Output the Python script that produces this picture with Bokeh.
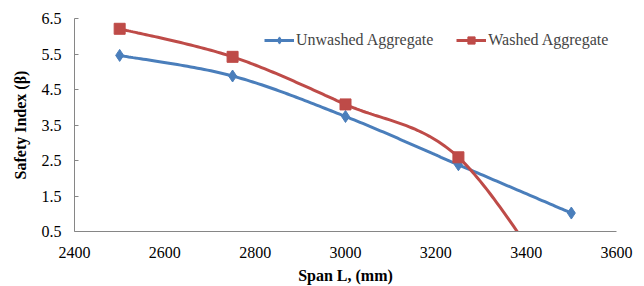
import numpy as np
from bokeh.plotting import figure
from bokeh.models import Range1d, FixedTicker, Legend, LegendItem, CustomJSTickFormatter
from bokeh.embed import file_html
from bokeh.resources import INLINE

span = [2500, 2750, 3000, 3250, 3500]
unwashed = [5.46, 4.88, 3.74, 2.38, 1.02]
washed = [6.21, 5.42, 4.08, 2.59, -1.8]
x_ticks = [2400, 2600, 2800, 3000, 3200, 3400, 3600]
y_ticks = [0.5, 1.5, 2.5, 3.5, 4.5, 5.5, 6.5]

BLUE = "#4A7EBB"
RED = "#BE4B48"
FONT = "Liberation Serif"
FS = "16px"


def smooth(xs, ys, n=40):
    xs = np.asarray(xs, float)
    ys = np.asarray(ys, float)
    m = len(xs)
    ox, oy = [], []
    for i in range(m - 1):
        i0, i2, i3 = max(i - 1, 0), i + 1, min(i + 2, m - 1)
        p0 = np.array([xs[i], ys[i]])
        p3 = np.array([xs[i2], ys[i2]])
        c1 = p0 + (np.array([xs[i2], ys[i2]]) - np.array([xs[i0], ys[i0]])) / 6
        c2 = p3 - (np.array([xs[i3], ys[i3]]) - p0) / 6
        t = np.linspace(0, 1, n)
        bx = (1 - t) ** 3 * p0[0] + 3 * t * (1 - t) ** 2 * c1[0] + 3 * t ** 2 * (1 - t) * c2[0] + t ** 3 * p3[0]
        by = (1 - t) ** 3 * p0[1] + 3 * t * (1 - t) ** 2 * c1[1] + 3 * t ** 2 * (1 - t) * c2[1] + t ** 3 * p3[1]
        ox.extend(bx.tolist())
        oy.extend(by.tolist())
    return ox, oy


p = figure(width=644, height=286, output_backend="svg", toolbar_location=None,
           x_range=Range1d(2400, 3600), y_range=Range1d(0.5, 6.5),
           min_border_left=74, min_border_right=28, min_border_top=18, min_border_bottom=54)
p.outline_line_color = None
p.xgrid.visible = False
p.ygrid.visible = False

ux, uy = smooth(span, unwashed)
wx, wy = smooth(span, washed)
l1 = p.line(ux, uy, line_color=BLUE, line_width=3)
m1 = p.scatter(span, unwashed, marker="diamond", size=12, fill_color=BLUE, line_color=BLUE)
l2 = p.line(wx, wy, line_color=RED, line_width=3)
m2 = p.scatter(span, washed, marker="square", size=11, fill_color=RED, line_color=RED)

for ax in (p.xaxis[0], p.yaxis[0]):
    ax.major_tick_out = 0
    ax.major_tick_in = 0
    ax.minor_tick_out = 0
    ax.minor_tick_in = 0
    ax.axis_line_color = "#868686"
    ax.major_tick_line_color = "#868686"
    ax.axis_line_width = 1
    ax.major_label_text_font = FONT
    ax.major_label_text_font_size = FS
    ax.major_label_text_color = "black"
    ax.axis_label_text_font = FONT
    ax.axis_label_text_font_size = FS
    ax.axis_label_text_font_style = "bold"
    ax.axis_label_text_color = "black"

p.yaxis.major_tick_in = 4
p.xaxis.ticker = FixedTicker(ticks=x_ticks)
p.yaxis.ticker = FixedTicker(ticks=y_ticks)
p.yaxis.formatter = CustomJSTickFormatter(code="return tick.toFixed(1);")
p.xaxis.axis_label = "Span L, (mm)"
p.yaxis.axis_label = "Safety Index (β)"
p.xaxis.major_label_standoff = 15
p.yaxis.major_label_standoff = 13
p.xaxis.axis_label_standoff = 6
p.yaxis.axis_label_standoff = 10

legend = Legend(items=[LegendItem(label="Unwashed Aggregate", renderers=[l1, m1]),
                       LegendItem(label="Washed Aggregate", renderers=[l2, m2])],
                orientation="horizontal", location=(190, 182),
                border_line_color=None, background_fill_alpha=0,
                label_text_font=FONT, label_text_font_size=FS,
                glyph_width=30, glyph_height=18, label_standoff=2, spacing=23,
                padding=0, margin=0)
p.add_layout(legend, "center")

open("out.html", "w").write(file_html(p, INLINE))
